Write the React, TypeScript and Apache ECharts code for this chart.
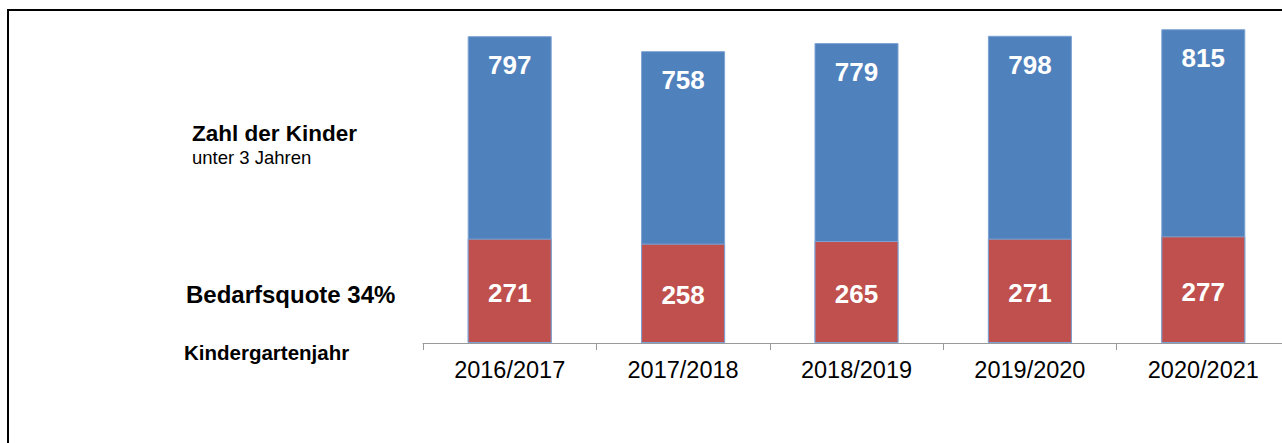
import React, { useEffect, useRef } from "react";
import * as echarts from "echarts";

const categories = ["2016/2017", "2017/2018", "2018/2019", "2019/2020", "2020/2021"];
const childrenUnder3 = [797, 758, 779, 798, 815];
const demandQuota = [271, 258, 265, 271, 277];

const FONT = "'Liberation Sans', Arial, Helvetica, sans-serif";

export default function App() {
  const ref = useRef<HTMLDivElement>(null);
  useEffect(() => {
    if (!ref.current) return;
    const chart = echarts.init(ref.current, undefined, { renderer: "svg" });
    chart.setOption({
      animation: false,
      backgroundColor: "#ffffff",
      textStyle: { fontFamily: FONT },
      grid: { left: 423, top: 15.75, width: 867, height: 327.25 },
      xAxis: {
        type: "category",
        data: categories,
        boundaryGap: true,
        axisLine: { show: true, lineStyle: { color: "#9a9a9a", width: 1 } },
        axisTick: { show: true, length: 7, lineStyle: { color: "#9a9a9a" } },
        axisLabel: { color: "#000", fontSize: 23.5, margin: 15, fontFamily: FONT },
      },
      yAxis: { type: "value", min: 0, max: 850, show: false, splitLine: { show: false } },
      series: [
        {
          type: "bar",
          name: "Zahl der Kinder",
          data: childrenUnder3,
          barWidth: 84,
          barGap: "-100%",
          itemStyle: { color: "#4f81bd", borderColor: "#7ea3d3", borderWidth: 1 },
          label: {
            show: true,
            position: "insideTop",
            distance: 16,
            color: "#fff",
            fontWeight: "bold",
            fontSize: 26,
            fontFamily: FONT,
          },
          z: 1,
        },
        {
          type: "bar",
          name: "Bedarfsquote",
          data: demandQuota,
          barWidth: 84,
          barGap: "-100%",
          itemStyle: { color: "#c0504d", borderColor: "#7ea3d3", borderWidth: 1 },
          label: {
            show: true,
            position: "inside",
            offset: [0, 2],
            color: "#fff",
            fontWeight: "bold",
            fontSize: 26,
            fontFamily: FONT,
          },
          z: 2,
        },
      ],
      graphic: [
        {
          type: "rect",
          shape: { x: 8, y: 10, width: 1400, height: 600 },
          style: { fill: "none", stroke: "#000", lineWidth: 2 },
          silent: true,
        },
        {
          type: "text",
          x: 192,
          y: 133,
          style: { text: "Zahl der Kinder", fontSize: 22.5, fontWeight: "bold", fill: "#000", verticalAlign: "middle", fontFamily: FONT },
        },
        {
          type: "text",
          x: 192,
          y: 157,
          style: { text: "unter 3 Jahren", fontSize: 18.5, fill: "#000", verticalAlign: "middle", fontFamily: FONT },
        },
        {
          type: "text",
          x: 186,
          y: 294,
          style: { text: "Bedarfsquote 34%", fontSize: 24, fontWeight: "bold", fill: "#000", verticalAlign: "middle", fontFamily: FONT },
        },
        {
          type: "text",
          x: 184,
          y: 352,
          style: { text: "Kindergartenjahr", fontSize: 20.5, fontWeight: "bold", fill: "#000", verticalAlign: "middle", fontFamily: FONT },
        },
      ],
    });
    return () => chart.dispose();
  }, []);
  return (
    <div style={{ position: "absolute", left: 0, top: 0, width: 1282, height: 443, overflow: "hidden" }}>
      <div ref={ref} style={{ width: 1310, height: 443 }} />
    </div>
  );
}
